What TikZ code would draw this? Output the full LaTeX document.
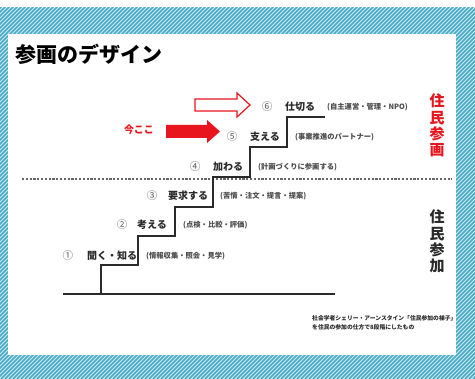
\documentclass[tikz,border=0pt]{standalone}
\usepackage{fontspec}
\newfontfamily\jp{Noto Sans CJK JP}
\definecolor{hatchbg}{HTML}{CDEBF3}
\definecolor{hatchln}{HTML}{4AAAC6}
\definecolor{myred}{HTML}{E8141E}
\definecolor{ink}{HTML}{2A2A2A}
\begin{document}
\begin{tikzpicture}[x=1pt,y=-1pt,
  lab/.style={font=\jp\fontsize{10}{12}\selectfont\bfseries, text=ink, inner sep=0, anchor=west},
  num/.style={font=\jp\fontsize{10.5}{12}\selectfont, text=black!65, inner sep=0, anchor=center},
  sub/.style={font=\jp\fontsize{7.3}{9}\selectfont\bfseries, text=black!70, inner sep=0, anchor=west},
  note/.style={font=\jp\fontsize{5.8}{7}\selectfont\bfseries, text=ink, inner sep=0, anchor=west},
  vert/.style={font=\jp\fontsize{15}{16.3}\selectfont\bfseries, inner sep=0, align=center},
  stair/.style={draw=ink, line width=2pt, line join=miter},
  dotline/.style={draw=black!60, line width=1.8pt, dash pattern=on 2.2pt off 1.6pt}
]
\useasboundingbox (0,0) rectangle (475,379);
\fill[white] (0,0) rectangle (475,379);
% hatched frame
\begin{scope}
  \clip (0,8) rectangle (475,379);
  \fill[hatchbg] (0,8) rectangle (475,379);
  \foreach \i in {0,4,...,860} {
    \draw[hatchln, line width=1.6pt] (\i-379,379) -- (\i,0);
  }
\end{scope}
\fill[white] (8,34) rectangle (456,355);

% title
\node[font=\jp\fontsize{21}{24}\selectfont\bfseries, inner sep=0, anchor=west] (title) at (15,54) {参画のデザイン};

% dotted separator
\coordinate (dl) at (22,179);
\coordinate (dr) at (452,179);
\draw[dotline] (dl) -- (dr);

% base line and stairs
\coordinate (b0) at (63,294);
\coordinate (b1) at (335,294);
\draw[stair] (b0) -- (b1);
\coordinate (s0) at (101,294);
\coordinate (s6) at (325,117);
\draw[stair] (s0) -- (101,265) -- (138,265) -- (138,236) -- (175,236) -- (175,207)
  -- (213,207) -- (213,177) -- (250,177) -- (250,147) -- (287,147) -- (287,117) -- (s6);

% step labels
\node[num] (n1) at (68,256) {①};
\node[lab] (l1) at (87,256) {聞く・知る};
\node[sub] (d1) at (146,256) {(情報収集・照会・見学)};

\node[num] (n2) at (122,225) {②};
\node[lab] (l2) at (137,225) {考える};
\node[sub] (d2) at (183,225) {(点検・比較・評価)};

\node[num] (n3) at (152,196) {③};
\node[lab] (l3) at (168,196) {要求する};
\node[sub] (d3) at (220,196) {(苦情・注文・提言・提案)};

\node[num] (n4) at (195,167) {④};
\node[lab] (l4) at (213,167) {加わる};
\node[sub] (d4) at (258,167) {(計画づくりに参画する)};

\node[num] (n5) at (232,137) {⑤};
\node[lab] (l5) at (250,137) {支える};
\node[sub] (d5) at (295,137) {(事業推進のパートナー)};

\node[num] (n6) at (267,107) {⑥};
\node[lab] (l6) at (285,107) {仕切る};
\node[sub] (d6) at (327,107) {(自主運営・管理・NPO)};

% arrows
\draw[myred, line width=1.2pt, fill=white, line join=miter]
  (195,99) -- (237,99) -- (237,93) -- (250,105) -- (237,117) -- (237,111) -- (195,111) -- cycle;
\fill[myred] (166,125) -- (207,125) -- (207,120) -- (220,131.5) -- (207,143) -- (207,138) -- (166,138) -- cycle;
\node[font=\jp\fontsize{10}{12}\selectfont\bfseries, text=myred, inner sep=0] (here) at (139,130) {今ここ};

% right labels
\node[vert, text=myred] (kak) at (437,125.5) {住\\民\\参\\画};
\node[vert, text=ink] (ka) at (437,241.5) {住\\民\\参\\加};

% footnote
\node[note] (f1) at (312,318) {社会学者シェリー・アーンスタイン「住民参加の梯子」};
\node[note] (f2) at (312,327) {を住民の参加の仕方で8段階にしたもの};
\end{tikzpicture}
\end{document}
